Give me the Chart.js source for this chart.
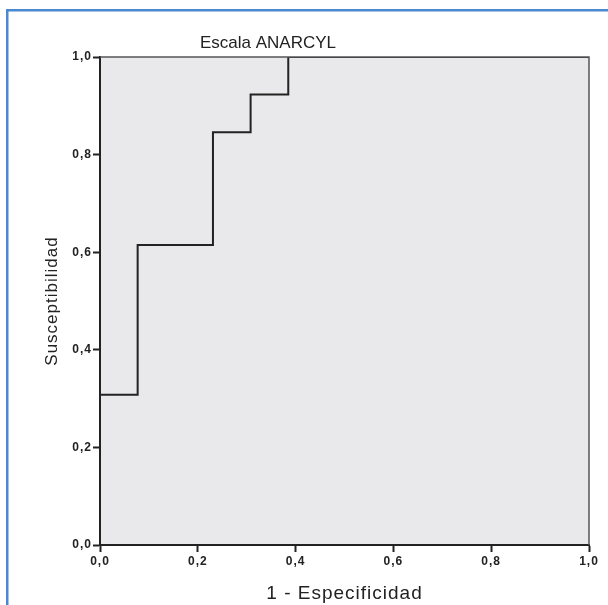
<!DOCTYPE html>
<html>
<head>
<meta charset="utf-8">
<script src="https://cdn.jsdelivr.net/npm/chart.js@4/dist/chart.umd.min.js"></script>
<style>
  html, body { margin: 0; padding: 0; background: #ffffff; }
  #wrap { position: relative; width: 608px; height: 605px; }
  canvas { display: block; }
</style>
</head>
<body>
<div id="wrap"><canvas id="c" width="608" height="605"></canvas></div>
<script>
// ROC curve coordinates (corner points of the step curve)
const oneMinusSpecificity = [0, 0, 0.077, 0.077, 0.231, 0.231, 0.308, 0.308, 0.385, 0.385, 1.0];
const sensitivity        = [0, 0.308, 0.308, 0.615, 0.615, 0.846, 0.846, 0.923, 0.923, 1.0, 1.0];
const tickValues = [0, 0.2, 0.4, 0.6, 0.8, 1.0];
const tickLabels = ['0,0', '0,2', '0,4', '0,6', '0,8', '1,0'];
const chartTitle = 'Escala ANARCYL';
const xTitle = '1 - Especificidad';
const yTitle = 'Susceptibilidad';

const FONT = '"Liberation Sans", Arial, Helvetica, sans-serif';
const INK = '#222222';

const points = oneMinusSpecificity.map((x, i) => ({ x: x, y: sensitivity[i] }));

const decor = {
  id: 'decor',
  beforeDraw(chart) {
    const ctx = chart.ctx;
    const a = chart.chartArea;
    ctx.save();
    // blue frame (top & left)
    ctx.fillStyle = '#4a88d2';
    ctx.fillRect(6, 9, 608 - 6, 2.5);
    ctx.fillRect(6, 9, 2.5, 605 - 9);
    // plot background
    ctx.fillStyle = '#e9e9eb';
    ctx.fillRect(a.left, a.top, a.right - a.left, a.bottom - a.top);
    ctx.restore();
    ctx.letterSpacing = '1px';
  },
  afterDatasetsDraw(chart) {
    const ctx = chart.ctx;
    const a = chart.chartArea;
    ctx.save();
    ctx.strokeStyle = '#555555';
    ctx.lineWidth = 1.5;
    ctx.beginPath();
    ctx.moveTo(a.left, a.top);
    ctx.lineTo(a.right, a.top);
    ctx.lineTo(a.right, a.bottom);
    ctx.stroke();
    ctx.restore();
  },
  afterDraw(chart) {
    const ctx = chart.ctx;
    ctx.save();
    ctx.letterSpacing = '0px';
    ctx.fillStyle = INK;
    ctx.font = '17px ' + FONT;
    ctx.textAlign = 'center';
    ctx.textBaseline = 'middle';
    ctx.fillText(chartTitle, 268, 43);
    ctx.restore();
    ctx.letterSpacing = '0px';
  }
};

new Chart(document.getElementById('c'), {
  type: 'line',
  data: {
    datasets: [{
      data: points,
      borderColor: INK,
      borderWidth: 2,
      pointRadius: 0,
      fill: false,
      tension: 0
    }]
  },
  options: {
    responsive: false,
    animation: false,
    layout: { padding: { top: 57, right: 19, left: 0, bottom: 0 } },
    plugins: { legend: { display: false }, tooltip: { enabled: false }, title: { display: false } },
    scales: {
      x: {
        type: 'linear',
        min: 0, max: 1,
        afterFit(s) { s.height = 60; },
        afterBuildTicks(s) { s.ticks = tickValues.map(v => ({ value: v })); },
        ticks: {
          callback: (v) => tickLabels[tickValues.findIndex(t => Math.abs(t - v) < 1e-6)],
          font: { family: FONT, size: 12, weight: 'bold' },
          color: INK,
          padding: 2,
          maxRotation: 0,
          autoSkip: false
        },
        grid: { drawOnChartArea: false, drawTicks: true, tickLength: 7, tickWidth: 2, tickColor: INK },
        border: { display: true, color: INK, width: 2 },
        title: {
          display: true, text: xTitle, color: INK,
          font: { family: FONT, size: 19 },
          padding: { top: 5, bottom: 0 }
        }
      },
      y: {
        type: 'linear',
        min: 0, max: 1,
        afterFit(s) { s.width = 100; },
        afterBuildTicks(s) { s.ticks = tickValues.map(v => ({ value: v })); },
        ticks: {
          callback: (v) => tickLabels[tickValues.findIndex(t => Math.abs(t - v) < 1e-6)],
          font: { family: FONT, size: 12, weight: 'bold' },
          color: INK,
          padding: 1,
          autoSkip: false
        },
        grid: { drawOnChartArea: false, drawTicks: true, tickLength: 7, tickWidth: 2, tickColor: INK },
        border: { display: true, color: INK, width: 2 },
        title: {
          display: true, text: yTitle, color: INK,
          font: { family: FONT, size: 17 },
          padding: { top: 42, bottom: 0 }
        }
      }
    }
  },
  plugins: [decor]
});
</script>
</body>
</html>
